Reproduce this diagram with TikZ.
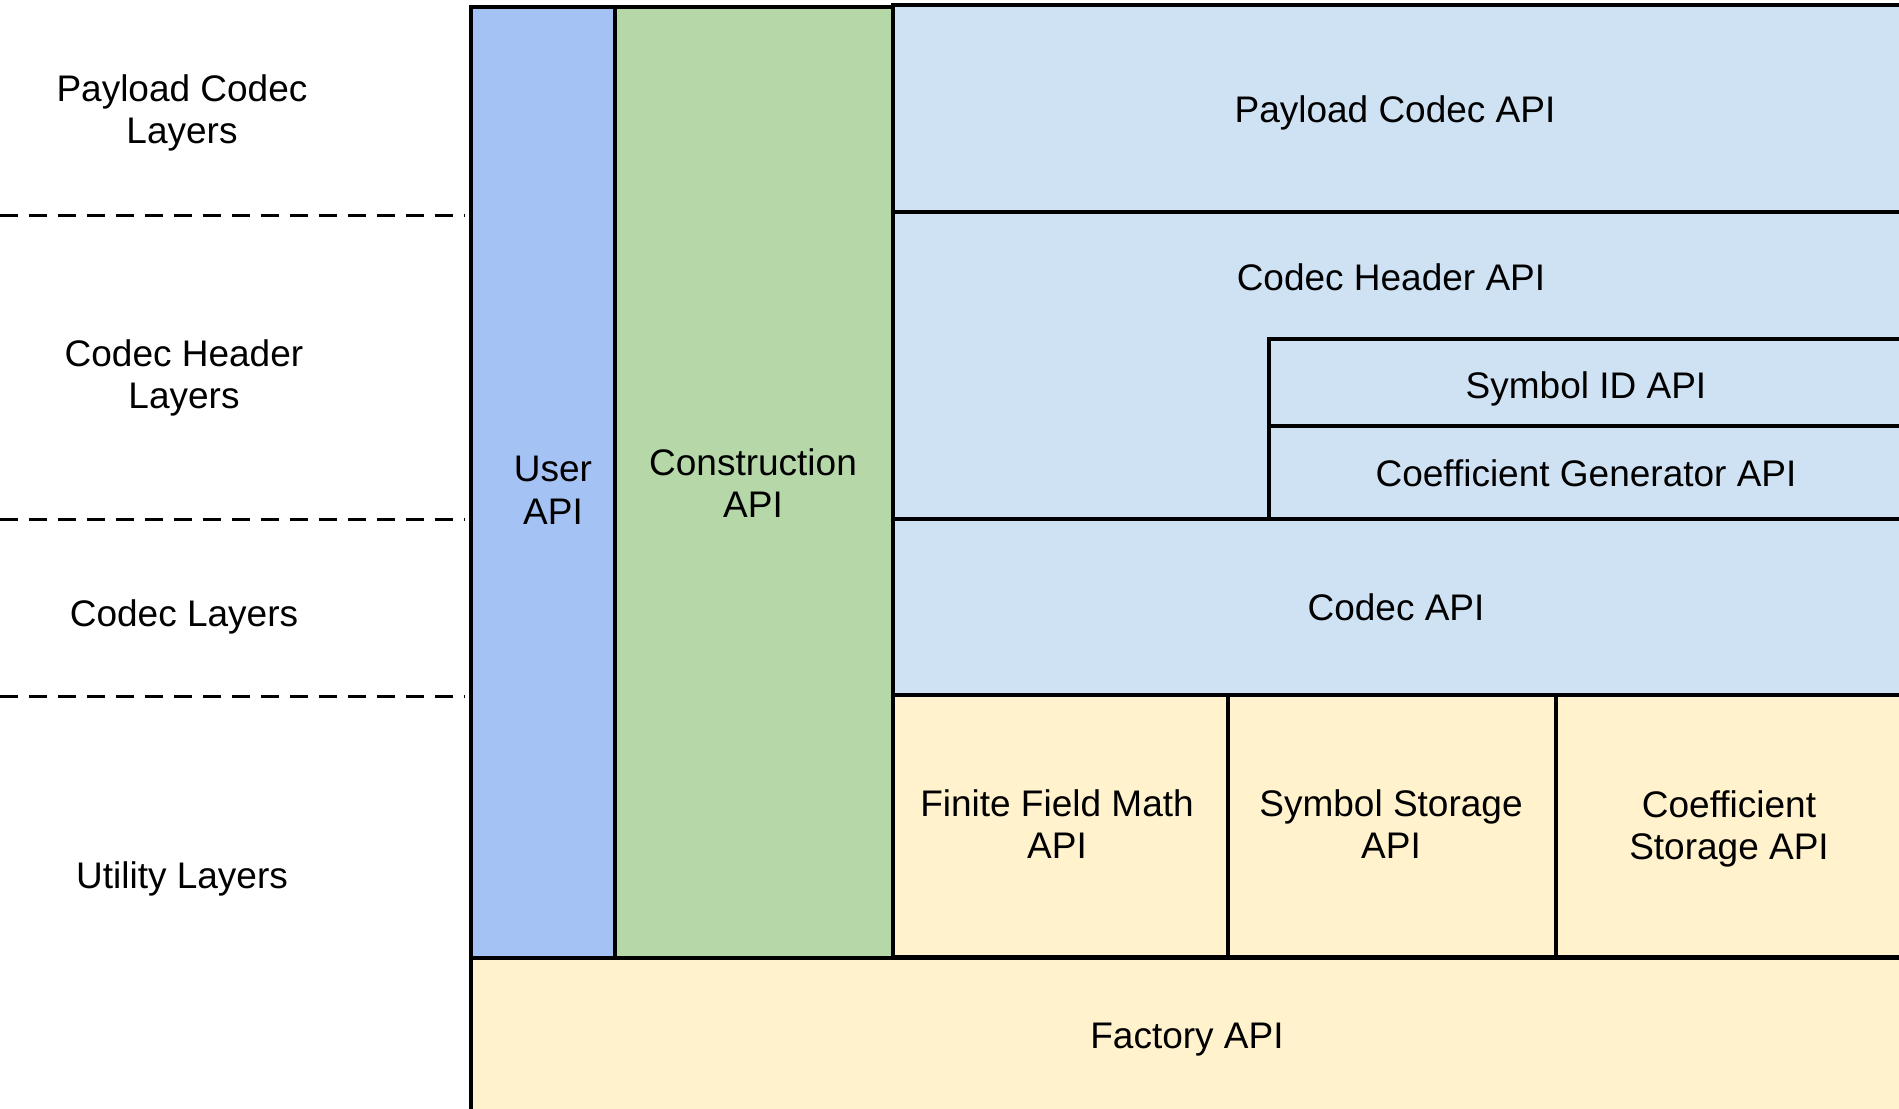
\documentclass[tikz,border=0pt]{standalone}
\usepackage{fontspec}
\setmainfont{Liberation Sans}
\definecolor{userblue}{RGB}{164,194,244}
\definecolor{constgreen}{RGB}{182,215,168}
\definecolor{lightblue}{RGB}{207,226,243}
\definecolor{lightyellow}{RGB}{255,242,204}
\tikzset{
  boxline/.style={draw=black, line width=1.6pt},
  lbl/.style={align=center, inner sep=0pt, font=\fontsize{18.5}{21.4}\selectfont},
  divider/.style={draw=black, line width=1.5pt, dash pattern=on 9pt off 5.5pt}
}
\begin{document}
\begin{tikzpicture}[x=0.5pt, y=-0.5pt]
\useasboundingbox (0,0) rectangle (1899,1108);
\clip (0,0) rectangle (1899,1108);
% columns
\path[boxline, fill=userblue] (471,7) rectangle (615,958);
\path[boxline, fill=constgreen] (615,7) rectangle (893,958);
% right stack
\path[boxline, fill=lightblue] (893,5) rectangle (1920,212);
\path[boxline, fill=lightblue] (893,212) rectangle (1920,519);
\path[boxline, fill=lightblue] (1269,339) rectangle (1920,426);
\path[boxline, fill=lightblue] (1269,426) rectangle (1920,519);
\path[boxline, fill=lightblue] (893,519) rectangle (1920,695);
\path[boxline, fill=lightyellow] (893,695) rectangle (1228,957);
\path[boxline, fill=lightyellow] (1228,695) rectangle (1556,957);
\path[boxline, fill=lightyellow] (1556,695) rectangle (1920,957);
\path[boxline, fill=lightyellow] (471,958) rectangle (1920,1130);
% dashed separators
\coordinate (d1a) at (0,215); \coordinate (d1b) at (465,215);
\coordinate (d2a) at (0,519); \coordinate (d2b) at (465,519);
\coordinate (d3a) at (0,696); \coordinate (d3b) at (465,696);
\draw[divider] (d1a) -- (d1b);
\draw[divider] (d2a) -- (d2b);
\draw[divider] (d3a) -- (d3b);
% layer labels
\node[lbl] (lpayload) at (182,113) {Payload Codec\\Layers};
\node[lbl] (lheader) at (184,378) {Codec Header\\Layers};
\node[lbl] (lcodec) at (184,617) {Codec Layers};
\node[lbl] (lutil) at (182,879) {Utility Layers};
% box labels
\node[lbl] (user) at (553,490) {User\\API};
\node[lbl] (construct) at (753,483) {Construction\\API};
\node[lbl] (payload) at (1395,113) {Payload Codec API};
\node[lbl] (header) at (1391,277) {Codec Header API};
\node[lbl] (symid) at (1586,389) {Symbol ID API};
\node[lbl] (coefgen) at (1586,473) {Coefficient Generator API};
\node[lbl] (codec) at (1396,607) {Codec API};
\node[lbl] (ffmath) at (1057,824) {Finite Field Math\\API};
\node[lbl] (symstore) at (1391,824) {Symbol Storage\\API};
\node[lbl] (coefstore) at (1729,829) {Coefficient\\Storage API};
\node[lbl] (factory) at (1187,1040) {Factory API};
\end{tikzpicture}
\end{document}
